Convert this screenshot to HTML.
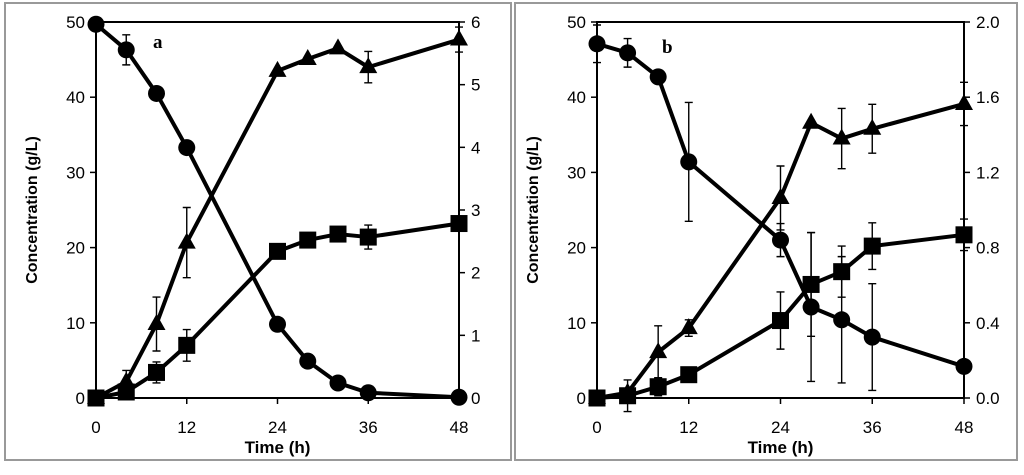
<!DOCTYPE html>
<html><head><meta charset="utf-8"><style>
body{margin:0;background:#fff;width:1024px;height:470px;overflow:hidden;font-family:"Liberation Sans",sans-serif}
svg text{font-family:"Liberation Sans",sans-serif}
</style></head><body>
<svg id="chart" width="1024" height="470" xmlns="http://www.w3.org/2000/svg"></svg>
<script>
const times=[0,4,8,12,24,28,32,36,48];
const xTicks=[0,12,24,36,48];
const yTicksL=[0,10,20,30,40,50];
// Panel a
const aCircle=[49.7,46.3,40.5,33.3,9.8,4.9,2.0,0.7,0.1];
const aCircleErr=[0,2.0,0,0,0,0,0,0,0];
const aSquare=[0,0.8,3.4,7.0,19.5,21.0,21.8,21.4,23.2];
const aSquareErr=[0,0,1.4,2.1,0,0,0,1.6,0];
const aTriangle=[0,0.26,1.18,2.48,5.22,5.41,5.58,5.28,5.72];
const aTriangleErr=[0,0.18,0.43,0.56,0,0,0,0.25,0.2];
const aRightTicks=[0,1,2,3,4,5,6];
const aRightLabels=["0","1","2","3","4","5","6"];
// Panel b
const bCircle=[47.1,45.9,42.7,31.4,21.0,12.1,10.4,8.1,4.2];
const bCircleErr=[2.5,1.9,0,7.9,2.2,9.9,8.4,7.1,0];
const bSquare=[0,0.3,1.5,3.1,10.3,15.1,16.8,20.2,21.7];
const bSquareErr=[0,2.1,1.2,0,3.8,6.9,3.4,3.1,2.1];
const bTriangle=[0,0.028,0.244,0.372,1.064,1.464,1.38,1.432,1.564];
const bTriangleErr=[0,0,0.14,0.044,0.17,0,0.16,0.13,0.115];
const bRightTicks=[0,0.4,0.8,1.2,1.6,2.0];
const bRightLabels=["0.0","0.4","0.8","1.2","1.6","2.0"];

const svg=document.getElementById('chart');
const NS='http://www.w3.org/2000/svg';
function mk(tag,attrs,parent){const e=document.createElementNS(NS,tag);for(const k in attrs)e.setAttribute(k,attrs[k]);(parent||svg).appendChild(e);return e;}

function panel(p){
  const g=mk('g',{});
  
  
  const fr=mk('rect',{x:p.bx,y:3,width:p.bw,height:457,fill:'none',stroke:'#999','stroke-width':2},g);
  
  
  const x0=p.x0,x1=p.x1,yb=398,yt=22;
  const sx=t=>x0+(t/48)*(x1-x0);
  const syL=v=>yb-(v/50)*(yb-yt);
  const syR=v=>yb-(v/p.rmax)*(yb-yt);
  const ax=mk('path',{d:`M${x0},${yt}H${x1}V${yb}H${x0}Z`,fill:'none',stroke:'#000','stroke-width':2},g);
  
  
  xTicks.forEach(t=>{
    mk('line',{x1:sx(t),x2:sx(t),y1:yb,y2:yb+6,stroke:'#000','stroke-width':1.5},g);
    const tx=mk('text',{x:sx(t),y:yb+35,'font-size':17,'text-anchor':'middle'},g);
    tx.textContent=t;
    
    
  });
  yTicksL.forEach(v=>{
    mk('line',{x1:x0-6,x2:x0,y1:syL(v),y2:syL(v),stroke:'#000','stroke-width':1.5},g);
    const tx=mk('text',{x:x0-11,y:syL(v)+6,'font-size':17,'text-anchor':'end'},g);
    tx.textContent=v;
    
    
  });
  p.rt.forEach((v,i)=>{
    mk('line',{x1:x1,x2:x1+6,y1:syR(v),y2:syR(v),stroke:'#000','stroke-width':1.5},g);
    const tx=mk('text',{x:x1+12,y:syR(v)+6,'font-size':17,'text-anchor':'start'},g);
    tx.textContent=p.rl[i];
    
    
  });
  const xt=mk('text',{x:(x0+x1)/2,y:453,'font-size':17,'font-weight':'bold','text-anchor':'middle'},g);
  xt.textContent='Time (h)';
  
  
  const cy=(yb+yt)/2;
  const yt2=mk('text',{x:0,y:0,'font-size':16,'font-weight':'bold','text-anchor':'middle',transform:`translate(${x0-59},${cy}) rotate(-90)`},g);
  yt2.textContent='Concentration (g/L)';
  
  
  const lb=mk('text',{x:p.lx,y:p.ly,'font-size':19,'font-weight':'bold'},g);
  lb.setAttribute('style','font-family:"Liberation Serif",serif');
  lb.textContent=p.tag;
  
  

  function series(vals,errs,sy,shape,name){
    const sg=mk('g',{},g);
    
    
    errs.forEach((e,i)=>{if(e>0){
      const x=sx(times[i]),a=sy(vals[i]-e),b=sy(vals[i]+e);
      mk('path',{d:`M${x},${a}V${b}M${x-4},${a}H${x+4}M${x-4},${b}H${x+4}`,stroke:'#000','stroke-width':1.4,fill:'none'},sg);
    }});
    const d=vals.map((v,i)=>(i?'L':'M')+sx(times[i])+','+sy(v)).join('');
    const ln=mk('path',{d:d,stroke:'#000','stroke-width':4,fill:'none','stroke-linejoin':'round'},sg);
    
    
    vals.forEach((v,i)=>{
      const x=sx(times[i]),y=sy(v);let m;
      if(shape==='circle')m=mk('circle',{cx:x,cy:y,r:8.5,fill:'#000'},sg);
      else if(shape==='square')m=mk('rect',{x:x-8.5,y:y-8.5,width:17,height:17,fill:'#000'},sg);
      else m=mk('path',{d:`M${x},${y-10}L${x+9},${y+6}L${x-9},${y+6}Z`,fill:'#000'},sg);
      
      
    });
  }
  series(p.c,p.ce,syL,'circle','circle-series');
  series(p.s,p.se,syL,'square','square-series');
  series(p.t,p.te,syR,'triangle','triangle-series');
}
panel({tag:'a',bx:5,bw:506,x0:96,x1:459,rmax:6,rt:aRightTicks,rl:aRightLabels,lx:153,ly:48,
  c:aCircle,ce:aCircleErr,s:aSquare,se:aSquareErr,t:aTriangle,te:aTriangleErr});
panel({tag:'b',bx:515,bw:502,x0:597,x1:964,rmax:2,rt:bRightTicks,rl:bRightLabels,lx:662,ly:53,
  c:bCircle,ce:bCircleErr,s:bSquare,se:bSquareErr,t:bTriangle,te:bTriangleErr});
</script>
</body></html>
